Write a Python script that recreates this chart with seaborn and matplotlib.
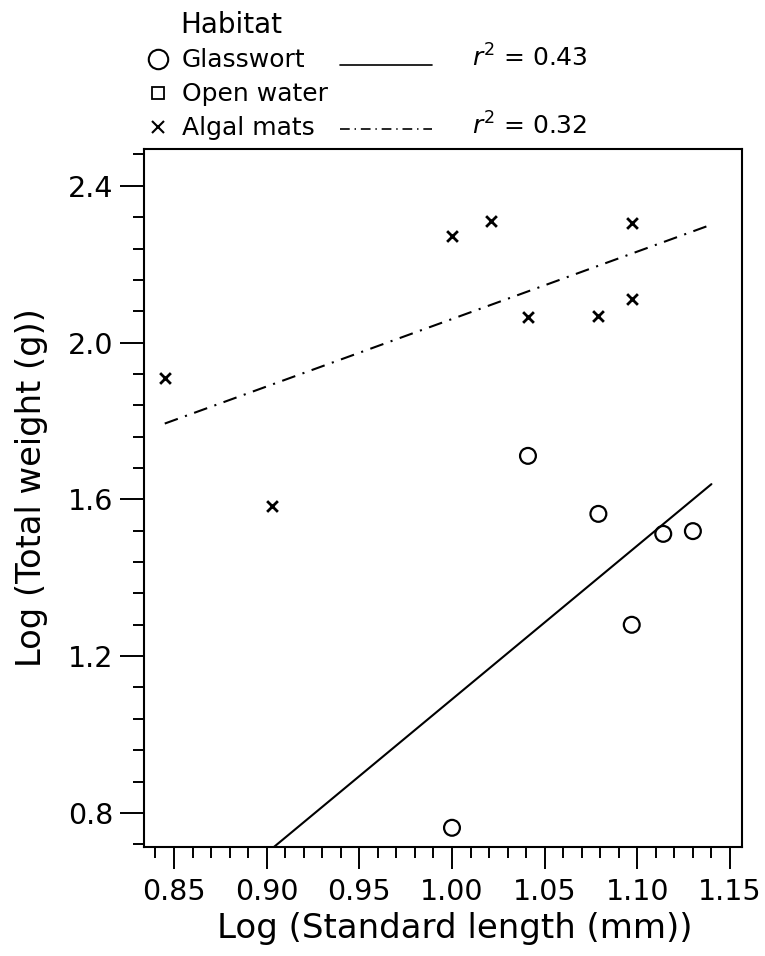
import numpy as np
import pandas as pd
import matplotlib
matplotlib.use("Agg")
import matplotlib.pyplot as plt
import seaborn as sns
from matplotlib.ticker import MultipleLocator, FormatStrFormatter, FixedLocator

# ---------------- data ----------------
habitats = ["Glasswort", "Open water", "Algal mats"]
glass_x = [1.000, 1.041, 1.079, 1.097, 1.114, 1.130]
glass_y = [0.762, 1.711, 1.563, 1.280, 1.512, 1.519]
algal_x = [0.845, 0.903, 1.000, 1.021, 1.041, 1.079, 1.097, 1.097]
algal_y = [1.910, 1.583, 2.272, 2.310, 2.065, 2.068, 2.305, 2.111]
r2_values = ["0.43", None, "0.32"]
fit_range = [0.845, 1.14]
x_ticks = [0.85, 0.90, 0.95, 1.00, 1.05, 1.10, 1.15]
y_ticks = [0.8, 1.2, 1.6, 2.0, 2.4]
x_label = "Log (Standard length (mm))"
y_label = "Log (Total weight (g))"
legend_title = "Habitat"

df = pd.DataFrame({
    "x": glass_x + algal_x,
    "y": glass_y + algal_y,
    "habitat": ["Glasswort"] * len(glass_x) + ["Algal mats"] * len(algal_x),
})

# ---------------- style ----------------
sns.set_theme(style="white")
plt.rcParams["font.family"] = ["DejaVu Sans"]
plt.rcParams["mathtext.fontset"] = "dejavusans"
plt.rcParams["lines.scale_dashes"] = False

W, H = 765, 956
fig = plt.figure(figsize=(W / 100, H / 100), dpi=100)
ax = fig.add_axes([144 / W, 1 - 847 / H, (742 - 144) / W, (847 - 149) / H])

g = df[df.habitat == "Glasswort"]
a = df[df.habitat == "Algal mats"]

sns.scatterplot(data=g, x="x", y="y", marker="o", s=130, color="black",
                linewidth=1.6, ax=ax, legend=False, zorder=3)
ax.collections[-1].set_facecolor("none")
ax.collections[-1].set_edgecolor("black")

sns.scatterplot(data=a, x="x", y="y", marker="x", s=60, color="black",
                linewidth=2.0, ax=ax, legend=False, zorder=3)

# regression lines
fx = np.array(fit_range)
cg = np.polyfit(g.x, g.y, 1)
ca = np.polyfit(a.x, a.y, 1)
sns.lineplot(x=fx, y=np.polyval(cg, fx), color="black", lw=1.5, ax=ax)
sns.lineplot(x=fx, y=np.polyval(ca, fx), color="black", lw=1.5,
             linestyle=(0, (10, 5.5, 1.5, 5.5)), ax=ax)

ax.set_xlim(0.8338, 1.1565)
ax.set_ylim(0.713, 2.494)
ax.xaxis.set_major_locator(FixedLocator(x_ticks))
ax.yaxis.set_major_locator(FixedLocator(y_ticks))
ax.xaxis.set_minor_locator(MultipleLocator(0.01))
ax.yaxis.set_minor_locator(MultipleLocator(0.08))
ax.xaxis.set_major_formatter(FormatStrFormatter("%.2f"))
ax.yaxis.set_major_formatter(FormatStrFormatter("%.1f"))
ax.tick_params(axis="both", which="both", direction="out", color="black",
               labelcolor="black", bottom=True, left=True, top=False, right=False)
ax.tick_params(axis="x", which="major", length=16, width=1.4, labelsize=20.5, pad=6)
ax.tick_params(axis="x", which="minor", length=8, width=1.4)
ax.tick_params(axis="y", which="major", length=17, width=1.4, labelsize=20.5, pad=5)
ax.tick_params(axis="y", which="minor", length=8, width=1.4)
for s in ax.spines.values():
    s.set_visible(True)
    s.set_color("black")
    s.set_linewidth(1.5)
ax.set_xlabel(x_label, fontsize=24.5, color="black")
ax.xaxis.set_label_coords((455 - 144) / 598, (847 - 912) / 698)
ax.set_ylabel(y_label, fontsize=24.3, color="black")
ax.yaxis.set_label_coords((48 - 144) / 598, (847 - 488) / 698)
ax.grid(False)

# ---------------- legend (figure pixel coords) ----------------
lax = fig.add_axes([0, 0, 1, 1], zorder=5)
lax.set_xlim(0, W)
lax.set_ylim(H, 0)
lax.axis("off")
lax.patch.set_alpha(0)

lax.text(180, 33, legend_title, fontsize=20, va="baseline", ha="left", color="black")
base_y = [67, 101, 135]
mark_y = [59, 93, 127]
text_x = [182, 182, 182]
mk = [dict(marker="o", ms=14, mew=1.5), dict(marker="s", ms=8.5, mew=1.3),
      dict(marker="x", ms=9, mew=1.5)]
line_styles = ["-", None, (0, (7, 3.5, 1, 3.5))]
line_y = [65, None, 129]
for hab, by, my, tx, m, ls, ly, r2 in zip(habitats, base_y, mark_y, text_x, mk,
                                         line_styles, line_y, r2_values):
    lax.plot([158], [my], color="black", mfc="none", ls="none", **m)
    lax.text(tx, by, hab, fontsize=18, va="baseline", ha="left", color="black")
    if ls is not None:
        lax.plot([340, 432], [ly, ly], color="black", lw=1.2, ls=ls)
    if r2 is not None:
        lax.text(472, by, r"$r^2$ = " + r2, fontsize=18, va="baseline",
                 ha="left", color="black")

fig.savefig("out.png", dpi=100)
